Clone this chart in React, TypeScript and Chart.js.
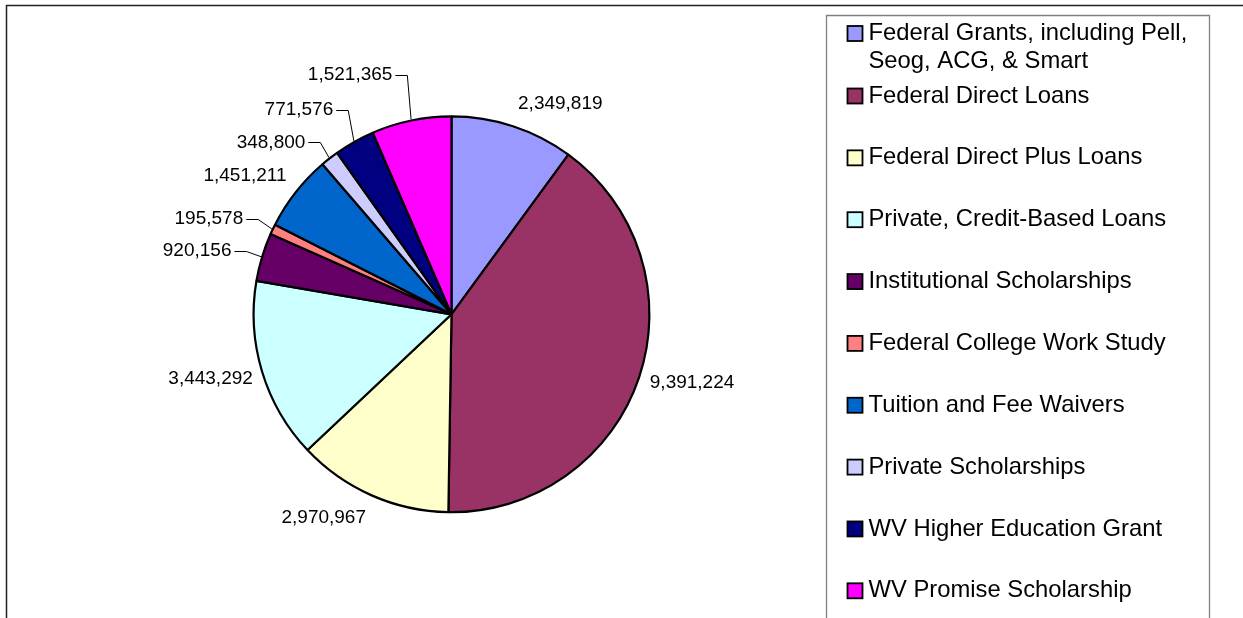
import React, { useEffect, useRef } from "react";
import { Chart, registerables } from "chart.js";

Chart.register(...registerables);

const categories = [
  "Federal Grants, including Pell, Seog, ACG, & Smart",
  "Federal Direct Loans",
  "Federal Direct Plus Loans",
  "Private, Credit-Based Loans",
  "Institutional Scholarships",
  "Federal College Work Study",
  "Tuition and Fee Waivers",
  "Private Scholarships",
  "WV Higher Education Grant",
  "WV Promise Scholarship",
];

const amounts = [
  2349819, 9391224, 2970967, 3443292, 920156, 195578, 1451211, 348800, 771576,
  1521365,
];

const sliceColors = [
  "#9999FF",
  "#993366",
  "#FFFFCC",
  "#CCFFFF",
  "#660066",
  "#FF8080",
  "#0066CC",
  "#CCCCFF",
  "#000080",
  "#FF00FF",
];

// label placement (style): offset of text centre from the slice's outer mid-point
const labelOffsets = [
  [47, -21.5],
  [52, 5],
  [-47.5, 21],
  [-50.5, 7],
  [-64, -6],
  [-63, -10],
  [-50, -16],
  [-58, -15.3],
  [-55, -31],
  [-61, -44.5],
];
const labelLeaders = [false, false, false, false, true, true, false, true, true, true];

const FONT = '"Liberation Sans", Arial, sans-serif';

function wrapText(ctx: CanvasRenderingContext2D, text: string, maxW: number) {
  const words = text.split(" ");
  const lines: string[] = [];
  let cur = "";
  for (const w of words) {
    const t = cur ? cur + " " + w : w;
    if (ctx.measureText(t).width > maxW && cur) {
      lines.push(cur);
      cur = w;
    } else cur = t;
  }
  if (cur) lines.push(cur);
  return lines;
}

const labelPlugin = {
  id: "sliceLabels",
  afterDatasetsDraw(chart: any) {
    const ctx = chart.ctx as CanvasRenderingContext2D;
    const meta = chart.getDatasetMeta(0);
    ctx.save();
    ctx.font = `19px ${FONT}`;
    ctx.fillStyle = "#000";
    ctx.textBaseline = "middle";
    ctx.textAlign = "center";
    ctx.strokeStyle = "#000";
    ctx.lineWidth = 1;
    meta.data.forEach((arc: any, i: number) => {
      const mid = (arc.startAngle + arc.endAngle) / 2;
      const R = arc.outerRadius + 1;
      const ex = arc.x + Math.cos(mid) * R;
      const ey = arc.y + Math.sin(mid) * R;
      const tx = ex + labelOffsets[i][0];
      const ty = ey + labelOffsets[i][1];
      const txt = amounts[i].toLocaleString("en-US");
      ctx.fillText(txt, tx, ty);
      if (labelLeaders[i]) {
        const w = ctx.measureText(txt).width;
        const right = tx + w / 2;
        ctx.beginPath();
        ctx.moveTo(right + 3, Math.round(ty) + 0.5);
        ctx.lineTo(right + 15, Math.round(ty) + 0.5);
        ctx.lineTo(ex, ey);
        ctx.stroke();
      }
    });
    ctx.restore();
  },
  afterDraw(chart: any) {
    const ctx = chart.ctx as CanvasRenderingContext2D;
    ctx.save();
    // outer chart frame
    ctx.strokeStyle = "#222";
    ctx.lineWidth = 1.5;
    ctx.beginPath();
    ctx.moveTo(6.5, 640);
    ctx.lineTo(6.5, 5.5);
    ctx.lineTo(1250, 5.5);
    ctx.stroke();
    // legend box
    ctx.strokeStyle = "#808080";
    ctx.lineWidth = 1.3;
    ctx.beginPath();
    ctx.moveTo(826.5, 640);
    ctx.lineTo(826.5, 15.5);
    ctx.lineTo(1209.5, 15.5);
    ctx.lineTo(1209.5, 640);
    ctx.stroke();
    // legend items
    ctx.font = `23.8px ${FONT}`;
    ctx.textBaseline = "middle";
    ctx.textAlign = "left";
    const textX = 868.5;
    const swX = 847.5;
    const sw = 15;
    categories.forEach((name, i) => {
      const lines = wrapText(ctx, name, 330);
      const y0 = i === 0 ? 33.5 : 96 + (i - 1) * 61.85;
      ctx.fillStyle = sliceColors[i];
      ctx.fillRect(swX, y0 - sw / 2, sw, sw);
      ctx.strokeStyle = "#000";
      ctx.lineWidth = 1.8;
      ctx.strokeRect(swX, y0 - sw / 2, sw, sw);
      ctx.fillStyle = "#000";
      lines.forEach((ln, k) => ctx.fillText(ln, textX, y0 + k * 27.7));
    });
    ctx.restore();
  },
};

export default function App() {
  const ref = useRef<HTMLCanvasElement | null>(null);
  useEffect(() => {
    if (!ref.current) return;
    const chart = new Chart(ref.current, {
      type: "pie",
      data: {
        labels: categories,
        datasets: [
          {
            data: amounts,
            backgroundColor: sliceColors,
            borderColor: "#000",
            borderWidth: 2.2,
          },
        ],
      },
      options: {
        responsive: false,
        animation: false,
        layout: {
          padding: { left: 252.5, right: 592.5, top: 115.3, bottom: 104.7 },
        },
        plugins: {
          legend: { display: false },
          tooltip: { enabled: false },
          title: { display: false },
        },
      },
      plugins: [labelPlugin],
    });
    return () => chart.destroy();
  }, []);
  return (
    <div style={{ position: "absolute", left: 0, top: 0, width: 1243, height: 618, background: "#fff" }}>
      <canvas ref={ref} width={1243} height={618} style={{ display: "block" }} />
    </div>
  );
}
